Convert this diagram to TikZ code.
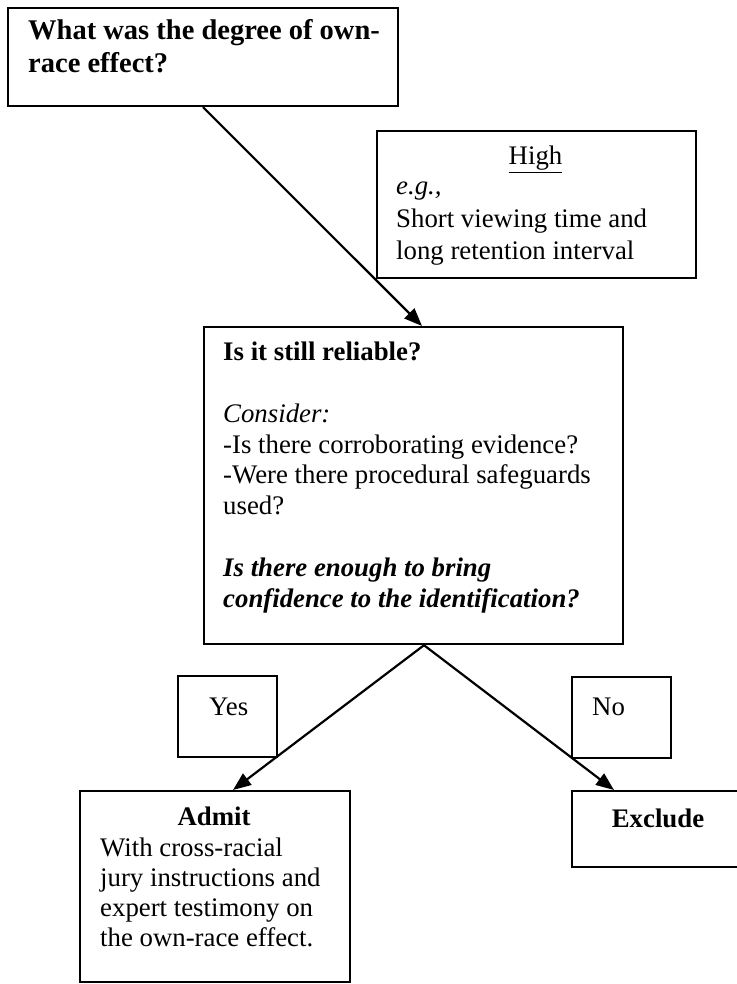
\documentclass[tikz,border=0pt]{standalone}
\usepackage{fontspec}
\setmainfont{Liberation Serif}
\usetikzlibrary{arrows.meta}
\tikzset{
  box/.style={draw, line width=2.2pt, rectangle, inner sep=0pt, anchor=north west},
  txt/.style={anchor=base west, inner sep=0pt, font=\fontsize{26.8}{30.8}\selectfont},
  ctxt/.style={anchor=base, inner sep=0pt, font=\fontsize{26.8}{30.8}\selectfont},
  arr/.style={line width=2.2pt, -{Triangle[length=18pt,width=14pt]}}
}
\begin{document}
\begin{tikzpicture}[x=1pt,y=-1pt]
\useasboundingbox (0,0) rectangle (736,984);
% boxes
\node[box, minimum width=390pt, minimum height=98pt] (q) at (7,7) {};
\node[box, minimum width=319pt, minimum height=147pt] (high) at (376,130) {};
\node[box, minimum width=419pt, minimum height=317pt] (mid) at (203,326) {};
\node[box, minimum width=99pt, minimum height=81pt] (yes) at (177,675) {};
\node[box, minimum width=99pt, minimum height=81pt] (no) at (571,676) {};
\node[box, minimum width=270pt, minimum height=191pt] (admit) at (79,790) {};
\node[box, minimum width=174pt, minimum height=76pt] (excl) at (571,790) {};
% texts
\node[anchor=base west, inner sep=0pt] (qt) at (28,40)
  {\parbox[t]{380pt}{\raggedright\fontsize{28.5}{33}\selectfont\bfseries What was the degree of own-\\race effect?}};
\node[ctxt] (hight) at (535.5,165) {\underline{High}};
\node[txt] (hight2) at (396,195)
  {\parbox[t]{300pt}{\raggedright\fontsize{26.8}{32.5}\selectfont\textit{e.g.,}\\Short viewing time and\\long retention interval}};
\node[txt] (midt) at (223,360.7)
  {\parbox[t]{395pt}{\raggedright\fontsize{26.8}{30.8}\selectfont\textbf{Is it still reliable?}\\\mbox{}\\\textit{Consider:}\\-Is there corroborating evidence?\\-Were there procedural safeguards\\used?\\\mbox{}\\\textbf{\textit{Is there enough to bring}}\\\textbf{\textit{confidence to the identification?}}}};
\node[txt] (yest) at (209,715) {Yes};
\node[txt] (not) at (592,715) {No};
\node[ctxt] (admitt) at (214,825) {\textbf{Admit}};
\node[txt] (admitt2) at (100,856)
  {\parbox[t]{250pt}{\raggedright\fontsize{26.8}{30}\selectfont With cross-racial\\jury instructions and\\expert testimony on\\the own-race effect.}};
\node[ctxt] (exclt) at (658,827) {\textbf{Exclude}};
% connectors
\draw[arr] ([xshift=196pt]q.south west) -- ([xshift=219pt]mid.north west);
\draw[arr] ([xshift=221pt]mid.south west) -- ([xshift=154pt]admit.north west);
\draw[arr] ([xshift=221pt]mid.south west) -- ([xshift=43pt]excl.north west);
\end{tikzpicture}
\end{document}
